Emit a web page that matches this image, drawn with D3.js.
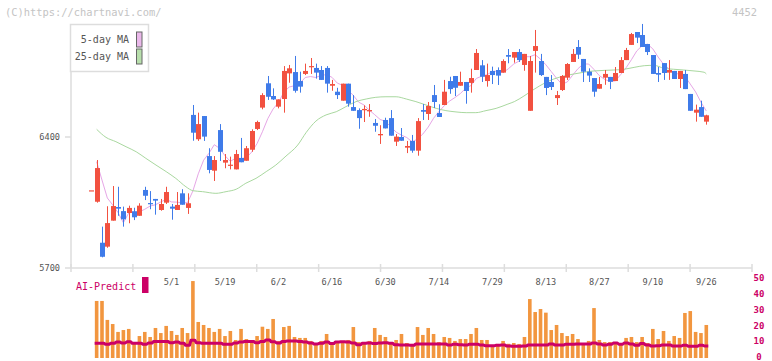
<!DOCTYPE html>
<html><head><meta charset="utf-8">
<script src="https://cdn.jsdelivr.net/npm/d3@7"></script>
<style>html,body{margin:0;padding:0;background:#fff;}svg{display:block;}</style>
</head><body>
<svg id="chart" width="772" height="361"></svg>
<script>
// ---- data (prices in yen, index = trading day) ----
const open  = [6115,6054,5835,5814,5953,6026,6004,5994,6003,5979,6117,6047,6069,6010,6049,6028,6010,6099,6021,6518,6388,6512,6298,6220,6437,6263,6247,6227,6288,6273,6332,6443,6557,6687,6619,6562,6603,6740,6747,6699,6737,6774,6769,6758,6769,6674,6642,6594,6685,6560,6544,6543,6537,6475,6409,6491,6501,6375,6400,6343,6379,6327,6544,6523,6624,6528,6571,6699,6726,6674,6694,6689,6758,6783,6699,6753,6758,6744,6838,6824,6854,6785,6540,6860,6806,6721,6694,6608,6651,6717,6801,6881,6817,6749,6715,6658,6717,6721,6699,6742,6811,6892,6961,6945,6897,6838,6742,6795,6744,6753,6710,6737,6630,6530,6560,6482];
const high  = [6115,6277,5921,6030,6138,6134,6028,6033,6022,6046,6134,6111,6069,6069,6134,6042,6106,6121,6099,6571,6530,6512,6340,6298,6469,6309,6295,6331,6395,6352,6441,6487,6634,6726,6660,6601,6779,6785,6833,6749,6792,6822,6792,6779,6779,6705,6663,6685,6685,6624,6553,6569,6576,6496,6463,6503,6544,6416,6448,6379,6411,6501,6576,6587,6678,6575,6705,6722,6726,6749,6694,6765,6870,6811,6792,6776,6772,6815,6870,6854,6870,6844,6833,6972,6844,6721,6731,6646,6731,6795,6870,6918,6817,6767,6715,6721,6758,6721,6774,6827,6876,6956,6961,7004,6897,6838,6774,6795,6811,6753,6753,6758,6630,6573,6594,6519];
const low   = [6115,6049,5757,5808,5953,5979,5921,5939,5956,5979,6063,6014,5985,6006,6042,5958,6010,6038,5989,6380,6379,6379,6206,6165,6272,6233,6227,6227,6265,6273,6321,6437,6548,6598,6598,6553,6530,6690,6637,6637,6731,6737,6712,6705,6637,6647,6603,6594,6562,6540,6444,6480,6508,6428,6363,6446,6407,6352,6380,6314,6316,6300,6491,6491,6555,6507,6571,6631,6619,6674,6578,6637,6758,6694,6669,6683,6678,6744,6794,6797,6801,6754,6540,6744,6726,6624,6651,6571,6646,6705,6801,6817,6694,6694,6615,6658,6679,6656,6699,6742,6811,6892,6902,6881,6838,6737,6694,6705,6705,6710,6662,6656,6540,6482,6508,6466];
const close = [6115,6234,5760,5940,6031,6017,5960,6021,5971,6033,6086,6042,6060,6042,6106,6017,6037,6038,6046,6423,6469,6402,6224,6277,6321,6277,6252,6309,6265,6340,6432,6480,6624,6615,6601,6601,6753,6767,6647,6669,6753,6779,6744,6705,6685,6683,6624,6685,6578,6540,6501,6550,6544,6460,6416,6446,6407,6402,6380,6352,6327,6485,6535,6566,6587,6507,6642,6656,6663,6694,6646,6715,6849,6722,6731,6731,6728,6806,6829,6854,6811,6844,6806,6886,6731,6662,6667,6624,6726,6790,6844,6840,6749,6728,6642,6683,6737,6695,6742,6811,6865,6950,6931,6881,6854,6737,6733,6742,6758,6710,6753,6656,6540,6546,6508,6516];
const ma5   = [null,6268,6170,6074,6037,5996,5942,5994,6000,6000,6014,6031,6038,6053,6067,6053,6052,6048,6049,6112,6203,6276,6313,6359,6339,6300,6270,6287,6285,6289,6320,6365,6428,6498,6550,6584,6639,6667,6674,6687,6718,6723,6718,6730,6733,6719,6688,6676,6651,6622,6586,6571,6543,6519,6494,6483,6455,6426,6410,6397,6374,6389,6416,6453,6500,6536,6567,6592,6611,6632,6660,6675,6713,6725,6733,6750,6752,6744,6765,6790,6806,6829,6829,6840,6816,6786,6750,6714,6682,6694,6730,6765,6790,6790,6761,6728,6708,6697,6700,6734,6770,6813,6860,6888,6896,6871,6827,6789,6765,6736,6739,6724,6683,6641,6586,6539];
const ma25Day = [1,2.75,4.6,6.5,8.4,10.2,12.1,14,15.8,17.7,19,20.8,23.3,25.2,27.1,28.9,30.8,32.7,34.5,36.4,38.6,40.2,42,43.9,45.8,47.6,49.5,51.4,53.2,55.1,57,58.9,60.7,62.6,64.5,66.3,68.2,70.1,71.9,73.8,75.7,77.9,79.1,80.9,82.8,84.7,86.5,88.4,90.3,92.1,94,95.9,97.7,99.6,101.5,103.4,105.2,107.1,108.9,110.8,112.7,114.6,115];
const ma25Val = [6441,6398,6375,6348,6321,6286,6250,6215,6179,6134,6113,6108,6099,6108,6121,6153,6179,6215,6250,6298,6357,6425,6485,6518,6535,6562,6589,6603,6612,6615,6615,6603,6589,6571,6553,6541,6534,6530,6530,6541,6553,6576,6589,6619,6655,6687,6710,6726,6737,6746,6753,6756,6758,6762,6772,6781,6783,6767,6762,6758,6753,6746,6737];
const volume = [null,36.1,36.1,24.1,21.5,16.5,17.7,18.4,10.1,13.9,16.5,13.3,19.0,15.8,20.3,17.1,14.6,19.0,15.8,48.7,22.8,20.9,19.0,16.5,18.4,13.9,17.1,11.4,18.4,12.0,10.8,13.9,19.8,18.4,24.7,10.8,19.6,20.3,13.3,12.7,12.7,10.8,8.9,10.8,15.2,8.9,10.1,10.8,11.4,19.6,10.1,8.9,10.8,19.0,14.6,13.3,8.9,11.4,15.2,9.5,8.9,19.6,14.6,19.0,15.2,10.1,13.3,12.7,10.8,12.0,12.0,15.2,19.0,11.4,11.4,7.6,8.9,10.8,9.0,9.5,8.9,13.3,37.3,29.1,31.0,28.7,17.7,20.9,15.8,13.9,15.2,12.0,8.9,10.8,31.6,11.4,10.1,10.1,10.1,9.5,12.7,13.3,10.1,13.3,9.5,18.4,12.0,17.1,10.8,13.9,12.7,28.5,29.7,16.5,15.8,20.9];
const aiPredict = [null,9.3,9.3,8.7,9.3,10.1,9.5,10.3,9.3,9.3,8.7,9.5,10.5,10.5,10.5,9.7,10.1,9.3,8.0,11.2,9.7,9.3,9.3,9.3,9.3,8.7,8.7,9.5,10.1,10.5,10.5,9.7,10.5,11.4,10.3,9.5,10.5,10.8,10.8,10.5,10.1,9.5,8.9,9.3,10.1,9.1,10.1,10.3,10.1,9.5,8.4,9.3,9.5,9.1,9.5,9.7,9.3,8.4,8.2,8.2,8.0,8.9,8.9,8.9,8.9,8.9,8.9,8.2,8.7,8.4,8.2,8.7,8.7,8.2,7.8,7.8,8.0,8.2,7.6,7.4,7.4,7.6,8.2,8.2,8.2,8.2,8.9,8.2,8.2,8.7,8.7,8.9,8.9,8.9,9.5,8.9,8.2,8.7,9.5,8.7,9.5,8.9,8.0,9.1,8.2,7.6,7.8,8.2,8.2,7.6,7.6,8.0,7.4,7.4,8.0,7.6];
const dateTickDays = [15,25,35,45,55,65,75,85,95,105,115];
const dateTickLabels = ["5/1","5/19","6/2","6/16","6/30","7/14","7/29","8/13","8/27","9/10","9/26"];
const priceTicks = [5700,6400];
const volumeTicks = [0,10,20,30,40,50];
const legendLabels = ["5-day MA","25-day MA"];

// ---- drawing ----
const svg = d3.select("#chart");
const FONT = "'DejaVu Sans Mono', 'Liberation Mono', monospace";
const C = {up:"#f25140", down:"#3f7be9", vol:"#f2963f", ai:"#cc0066",
           ma5:"#e6a6e6", ma25:"#a9d89f", axis:"#dddddd", text:"#555555", wm:"#c4c4c4"};

const n = close.length;
const x = d3.scaleLinear().domain([0, n - 1]).range([91.3, 706.3]);
const y = d3.scaleLinear().domain([5700, 7100]).range([268, 6]);
const yv = d3.scaleLinear().domain([0, 50]).range([358, 279]);
const grid = d3.scaleLinear().domain([0, 11]).range([71, 752]);

// watermark and code
svg.append("text").attr("x", 5).attr("y", 16).attr("font-family", FONT).attr("font-size", 10.4)
  .attr("fill", C.wm).text("(C)https://chartnavi.com/");
svg.append("text").attr("x", 757).attr("y", 16).attr("text-anchor", "end").attr("font-family", FONT)
  .attr("font-size", 10.4).attr("fill", C.wm).text("4452");

// axes
svg.append("line").attr("x1", 71).attr("x2", 71).attr("y1", 24).attr("y2", 268)
  .attr("stroke", C.axis).attr("stroke-width", 1.5);
svg.append("line").attr("x1", 71).attr("x2", 752).attr("y1", 268).attr("y2", 268)
  .attr("stroke", C.axis).attr("stroke-width", 1.5);
svg.append("g").selectAll("line").data(d3.range(12)).join("line")
  .attr("x1", d => grid(d)).attr("x2", d => grid(d)).attr("y1", 264).attr("y2", 272)
  .attr("stroke", C.axis).attr("stroke-width", 1.5);
svg.append("g").selectAll("line").data(priceTicks).join("line")
  .attr("x1", 65).attr("x2", 71).attr("y1", d => y(d)).attr("y2", d => y(d))
  .attr("stroke", C.axis).attr("stroke-width", 1.5);
svg.append("g").selectAll("text").data(priceTicks).join("text")
  .attr("x", 60).attr("y", d => y(d)).attr("dy", "0.35em").attr("text-anchor", "end")
  .attr("font-family", FONT).attr("font-size", 8.6).attr("fill", C.text).text(d => d);

// date labels
svg.append("g").selectAll("text").data(dateTickDays).join("text")
  .attr("x", d => x(d)).attr("y", 282).attr("dy", "0.35em").attr("text-anchor", "middle")
  .attr("font-family", FONT).attr("font-size", 8.6).attr("fill", C.text)
  .text((d, i) => dateTickLabels[i]);

// moving averages
const days = d3.range(n);
svg.append("path").datum(days.filter(i => ma5[i] != null))
  .attr("fill", "none").attr("stroke", C.ma5).attr("stroke-width", 1)
  .attr("d", d3.line().x(i => x(i)).y(i => y(ma5[i])));
svg.append("path").datum(d3.range(ma25Day.length))
  .attr("fill", "none").attr("stroke", C.ma25).attr("stroke-width", 1)
  .attr("d", d3.line().x(k => x(ma25Day[k])).y(k => y(ma25Val[k])).curve(d3.curveMonotoneX));

// candles
const cg = svg.append("g");
days.forEach(i => {
  const up = close[i] >= open[i];
  const col = up ? C.up : C.down;
  const cx = Math.round(x(i)) + 0.5;
  cg.append("line").attr("x1", cx).attr("x2", cx).attr("y1", y(high[i])).attr("y2", y(low[i]))
    .attr("stroke", col).attr("stroke-width", 1);
  const top = y(Math.max(open[i], close[i])), bot = y(Math.min(open[i], close[i]));
  cg.append("rect").attr("x", cx - 2.5).attr("width", 5).attr("y", top)
    .attr("height", Math.max(1.2, bot - top)).attr("fill", col);
});

// legend
svg.append("rect").attr("x", 70.5).attr("y", 24.5).attr("width", 78).attr("height", 47)
  .attr("fill", "#fff").attr("stroke", C.axis).attr("stroke-width", 1.5);
legendLabels.forEach((t, k) => {
  const yy = 39.5 + k * 17;
  svg.append("text").attr("x", 129).attr("y", yy).attr("dy", "0.35em").attr("text-anchor", "end")
    .attr("font-family", FONT).attr("font-size", 10).attr("fill", "#555").text(t);
  svg.append("rect").attr("x", 136.5).attr("y", yy - 7.5).attr("width", 5.5).attr("height", 15)
    .attr("fill", k === 0 ? "#eab8ea" : "#b8dfac").attr("stroke", "#666").attr("stroke-width", 1);
});

// volume bars
svg.append("g").selectAll("rect").data(days.filter(i => volume[i] != null)).join("rect")
  .attr("x", i => x(i) - 1.8).attr("width", 3.6)
  .attr("y", i => yv(volume[i])).attr("height", i => yv(0) - yv(volume[i]))
  .attr("fill", C.vol);

// AI predict line (flat step per day joined)
const aiPts = [];
days.filter(i => aiPredict[i] != null).forEach(i => {
  aiPts.push([x(i) - 2, yv(aiPredict[i])]);
  aiPts.push([x(i) + 2, yv(aiPredict[i])]);
});
svg.append("path").datum(aiPts).attr("fill", "none").attr("stroke", C.ai).attr("stroke-width", 3)
  .attr("stroke-linejoin", "round").attr("d", d3.line());

// volume axis labels
svg.append("g").selectAll("text").data(volumeTicks).join("text")
  .attr("x", 759).attr("y", d => yv(d) - 1).attr("dy", "0.35em").attr("text-anchor", "middle")
  .attr("font-family", FONT).attr("font-size", 9).attr("font-weight", "bold")
  .attr("fill", C.ai).text(d => d);

// AI label
svg.append("text").attr("x", 76).attr("y", 286).attr("dy", "0.35em").attr("font-family", FONT)
  .attr("font-size", 10).attr("fill", C.ai).text("AI-Predict");
svg.append("rect").attr("x", 142).attr("y", 277).attr("width", 6.5).attr("height", 16).attr("fill", C.ai);
</script>
</body></html>
